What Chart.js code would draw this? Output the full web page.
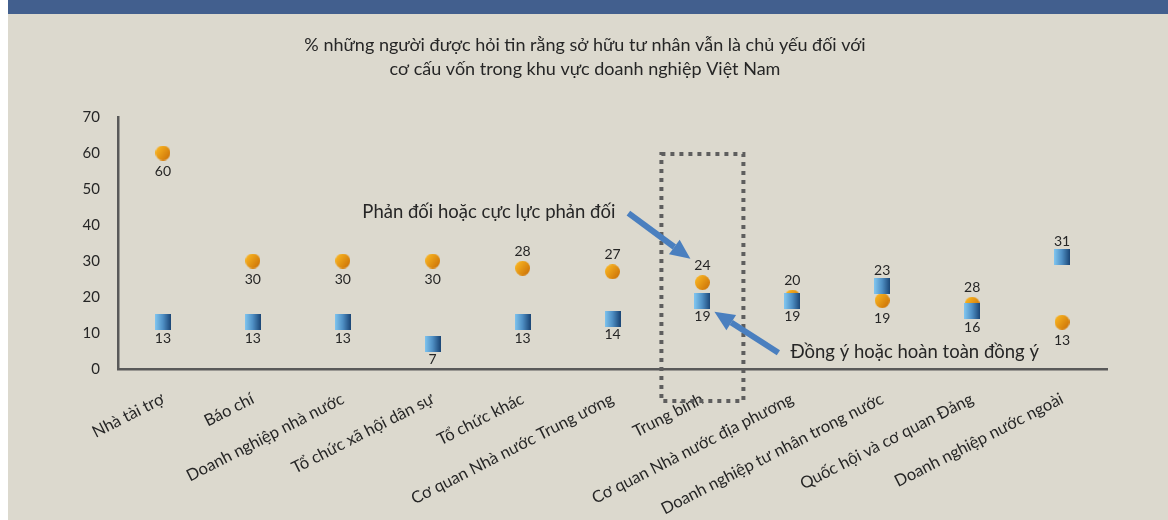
<!DOCTYPE html>
<html lang="vi">
<head>
<meta charset="UTF-8">
<title>Sở hữu tư nhân</title>
<script src="https://cdn.jsdelivr.net/npm/chart.js"></script>
<style>
  html, body { margin: 0; padding: 0; background: #fff; }
  #page { position: relative; width: 1168px; height: 520px; overflow: hidden; }
  #band { position: absolute; left: 8px; top: 0; width: 1160px; height: 14px; background: #425f8e; }
  #wrap { position: absolute; left: 8px; top: 14px; width: 1160px; height: 506px; background: #dcd9ce; }
</style>
</head>
<body>
<div id="page">
  <div id="band"></div>
  <div id="wrap"><canvas id="chart" width="1160" height="506"></canvas></div>
</div>

<script>
const titleLines = [
  '% những người được hỏi tin rằng sở hữu tư nhân vẫn là chủ yếu đối với',
  'cơ cấu vốn trong khu vực doanh nghiệp Việt Nam'
];
const categories = [
  'Nhà tài trợ', 'Báo chí', 'Doanh nghiệp nhà nước', 'Tổ chức xã hội dân sự',
  'Tổ chức khác', 'Cơ quan Nhà nước Trung ương', 'Trung bình',
  'Cơ quan Nhà nước địa phương', 'Doanh nghiệp tư nhân trong nước',
  'Quốc hội và cơ quan Đảng', 'Doanh nghiệp nước ngoài'
];
// Phản đối hoặc cực lực phản đối
const opposeValues = [60, 30, 30, 30, 28, 27, 24, 20, 19, 18, 13];
const opposeLabels = ['60', '30', '30', '30', '28', '27', '24', '20', '19', '28', '13'];
// Đồng ý hoặc hoàn toàn đồng ý
const agreeValues = [13, 13, 13, 7, 13, 14, 19, 19, 23, 16, 31];
const agreeLabels = ['13', '13', '13', '7', '13', '14', '19', '19', '23', '16', '31'];
const yTicks = [0, 10, 20, 30, 40, 50, 60, 70];

const FONT = 'Lato, "Open Sans", sans-serif';
const TEXT = '#262626';

// marker images with gradients
function squareIcon() {
  const c = document.createElement('canvas');
  c.width = 16; c.height = 16;
  const g = c.getContext('2d');
  const gr = g.createLinearGradient(0, 0, 16, 0);
  gr.addColorStop(0, '#80c6f0');
  gr.addColorStop(0.5, '#4f8fc4');
  gr.addColorStop(1, '#1a4474');
  g.fillStyle = gr;
  g.fillRect(0, 0, 16, 16);
  return c;
}
function circleIcon() {
  const c = document.createElement('canvas');
  c.width = 15; c.height = 15;
  const g = c.getContext('2d');
  const gr = g.createLinearGradient(2, 2, 15, 12);
  gr.addColorStop(0, '#f8b320');
  gr.addColorStop(1, '#cc7208');
  g.fillStyle = gr;
  g.beginPath();
  g.arc(7.5, 7.5, 7.5, 0, Math.PI * 2);
  g.fill();
  return c;
}

const decorations = {
  id: 'decorations',
  afterDatasetsDraw(chart) {
    const ctx = chart.ctx;
    const x = chart.scales.x, y = chart.scales.y;
    ctx.save();

    // title, centred on the page rather than on the padded layout
    ctx.font = '18px ' + FONT;
    ctx.fillStyle = TEXT;
    ctx.textAlign = 'center';
    ctx.textBaseline = 'middle';
    titleLines.forEach((t, i) => ctx.fillText(t, 577, 31 + i * 24));

    // value labels
    ctx.font = '14px ' + FONT;
    const opposeAbove = [4, 5, 6, 7, 9];
    const agreeAbove = [8, 10];
    opposeValues.forEach((v, i) => {
      const dy = opposeAbove.includes(i) ? -17 : 18;
      ctx.fillText(opposeLabels[i], x.getPixelForValue(i), y.getPixelForValue(v) + dy);
    });
    agreeValues.forEach((v, i) => {
      const dy = agreeAbove.includes(i) ? -16 : 16;
      ctx.fillText(agreeLabels[i], x.getPixelForValue(i), y.getPixelForValue(v) + dy);
    });

    // dotted box around "Trung bình"
    const cx = x.getPixelForValue(6);
    const top = y.getPixelForValue(59.7);
    const bottom = y.bottom + 32;
    ctx.strokeStyle = '#5e5e5e';
    ctx.lineWidth = 4;
    ctx.setLineDash([4, 5]);
    ctx.strokeRect(cx - 41, top, 82, bottom - top);
    ctx.setLineDash([]);

    // arrows
    function arrow(x0, y0, x1, y1) {
      const a = Math.atan2(y1 - y0, x1 - x0);
      const hl = 20, hw = 9;
      const bx = x1 - hl * Math.cos(a), by = y1 - hl * Math.sin(a);
      ctx.strokeStyle = '#4a7fbf';
      ctx.fillStyle = '#4a7fbf';
      ctx.lineWidth = 6;
      ctx.lineCap = 'butt';
      ctx.beginPath();
      ctx.moveTo(x0, y0);
      ctx.lineTo(bx, by);
      ctx.stroke();
      ctx.beginPath();
      ctx.moveTo(x1, y1);
      ctx.lineTo(bx + hw * Math.sin(a), by - hw * Math.cos(a));
      ctx.lineTo(bx - hw * Math.sin(a), by + hw * Math.cos(a));
      ctx.closePath();
      ctx.fill();
    }
    arrow(cx - 74, y.getPixelForValue(43.3), cx - 12, y.getPixelForValue(30.6));
    arrow(cx + 76, y.getPixelForValue(4.5), cx + 12, y.getPixelForValue(15.9));

    ctx.font = '18.5px ' + FONT;
    ctx.fillStyle = TEXT;
    ctx.textAlign = 'right';
    ctx.fillText('Phản đối hoặc cực lực phản đối', cx - 87, y.getPixelForValue(43.6));
    ctx.textAlign = 'left';
    ctx.fillText('Đồng ý hoặc hoàn toàn đồng ý', cx + 88, y.getPixelForValue(4.7));
    ctx.restore();
  }
};

const ctx = document.getElementById('chart').getContext('2d');
new Chart(ctx, {
  type: 'line',
  data: {
    labels: categories,
    datasets: [
      {
        label: 'Đồng ý hoặc hoàn toàn đồng ý',
        data: agreeValues,
        showLine: false,
        pointStyle: squareIcon(),
        pointRadius: 8,
        order: 0
      },
      {
        label: 'Phản đối hoặc cực lực phản đối',
        data: opposeValues,
        showLine: false,
        pointStyle: circleIcon(),
        pointRadius: 8,
        order: 1
      }
    ]
  },
  options: {
    responsive: false,
    animation: false,
    layout: { padding: { left: 0, right: 61, top: 103, bottom: 0 } },
    plugins: {
      legend: { display: false },
      tooltip: { enabled: false },
      title: { display: false }
    },
    scales: {
      x: {
        type: 'category',
        offset: true,
        grid: { display: false, drawTicks: false },
        border: { display: true, color: '#595959', width: 2.5 },
        ticks: {
          color: TEXT,
          font: { family: FONT, size: 16.5 },
          minRotation: 27,
          maxRotation: 27,
          padding: 20,
          autoSkip: false
        },
        afterFit(scale) { scale.height = 151; }
      },
      y: {
        min: 0,
        max: 70,
        afterBuildTicks(scale) { scale.ticks = yTicks.map(v => ({ value: v })); },
        grid: { display: false, drawTicks: false },
        border: { display: true, color: '#595959', width: 2.5 },
        ticks: {
          color: TEXT,
          font: { family: FONT, size: 15 },
          padding: 18
        },
        afterFit(scale) { scale.width = 110; }
      }
    }
  },
  plugins: [decorations]
});
</script>
</body>
</html>
